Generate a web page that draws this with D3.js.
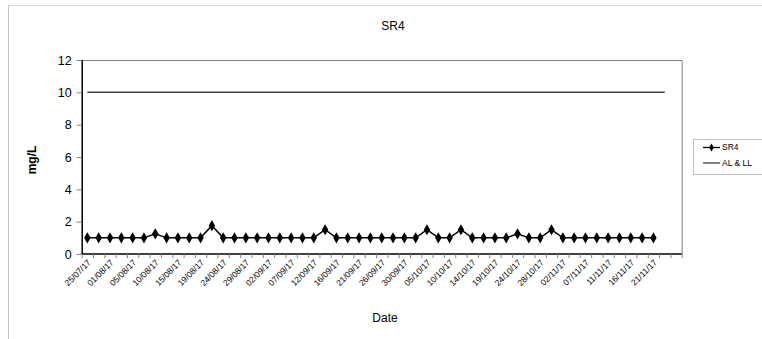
<!DOCTYPE html>
<html>
<head>
  <meta charset="utf-8">
  <title>SR4</title>
  <script src="https://d3js.org/d3.v7.min.js"></script>
  <style>
    body { margin: 0; background: #fff; }
    text { font-family: "Liberation Sans", Arial, sans-serif; }
  </style>
</head>
<body>
<script>
// category count on the date axis (last two are empty)
var categoryCount = 53;
var tickLabels = ["25/07/17","01/08/17","05/08/17","10/08/17","15/08/17","19/08/17",
  "24/08/17","29/08/17","02/09/17","07/09/17","12/09/17","16/09/17","21/09/17",
  "26/09/17","30/09/17","05/10/17","10/10/17","14/10/17","19/10/17","24/10/17",
  "28/10/17","02/11/17","07/11/17","11/11/17","16/11/17","21/11/17"];
var sr4Values = [1,1,1,1,1,1,1.25,1,1,1,1,1.75,1,1,1,1,1,1,1,1,1,1.5,1,1,1,1,
  1,1,1,1,1.5,1,1,1.5,1,1,1,1,1.25,1,1,1.5,1,1,1,1,1,1,1,1,1];
var alValues = [10,10,10,10,10,10,10,10,10,10,10,10,10,10,10,10,10,10,10,10,10,10,10,10,10,10,
  10,10,10,10,10,10,10,10,10,10,10,10,10,10,10,10,10,10,10,10,10,10,10,10,10,10];
var yTicks = [0,2,4,6,8,10,12];

var width = 762, height = 339;
var plot = {left: 81.7, right: 681.7, top: 60, bottom: 254};

var svg = d3.select("body").append("svg")
  .attr("width", width).attr("height", height);

// outer chart frame
svg.append("line").attr("x1", 8).attr("y1", 5.5).attr("x2", width).attr("y2", 5.5)
  .attr("stroke", "#d9d9d9");
svg.append("line").attr("x1", 8.5).attr("y1", 5).attr("x2", 8.5).attr("y2", height)
  .attr("stroke", "#c0c0c0");

var x = d3.scaleBand()
  .domain(d3.range(categoryCount))
  .range([plot.left, plot.right]);
var xEdge = d3.scaleLinear().domain([0, categoryCount]).range([plot.left, plot.right]);
var y = d3.scaleLinear().domain([0, 12]).range([plot.bottom, plot.top]);
var cx = function(i) { return x(i) + x.bandwidth() / 2; };

// plot frame top/right
svg.append("path")
  .attr("d", "M" + plot.left + "," + (plot.top + 0.5) + "H" + (plot.right + 0.5) + "V" + plot.bottom)
  .attr("fill", "none").attr("stroke", "#808080");

// y axis
var yAxis = svg.append("g")
  .attr("transform", "translate(" + plot.left + ",0)")
  .call(d3.axisLeft(y).tickValues(yTicks).tickSize(5).tickPadding(5).tickFormat(d3.format("d")));
yAxis.select(".domain").attr("stroke", "#000").attr("stroke-width", 1.5)
  .attr("d", "M0.5," + plot.top + "V" + plot.bottom);
yAxis.selectAll(".tick line").attr("stroke", "#808080");
yAxis.selectAll("text").style("font-size", "12.5px").attr("fill", "#000");

// x axis
var xAxis = svg.append("g")
  .attr("transform", "translate(0," + plot.bottom + ")")
  .call(d3.axisBottom(xEdge).tickValues(d3.range(categoryCount + 1)).tickSize(4).tickFormat(""));
xAxis.select(".domain").attr("stroke", "#000").attr("stroke-width", 1.5)
  .attr("d", "M" + plot.left + ",0H" + plot.right);
xAxis.selectAll(".tick line").attr("stroke", "#808080");

svg.append("g").selectAll("text")
  .data(tickLabels)
  .enter().append("text")
  .attr("transform", function(d, i) {
    return "translate(" + (cx(i * 2) + 2) + "," + (plot.bottom + 7) + ") rotate(-45)";
  })
  .attr("text-anchor", "end")
  .attr("dy", "0.35em")
  .attr("fill", "#000")
  .style("font-size", "8.5px")
  .text(function(d) { return d; });

// series lines
var line = d3.line()
  .x(function(d, i) { return cx(i); })
  .y(function(d) { return y(d); });

svg.append("path").datum(alValues)
  .attr("d", line).attr("fill", "none")
  .attr("stroke", "#404040").attr("stroke-width", 1.5);

svg.append("path").datum(sr4Values)
  .attr("d", line).attr("fill", "none")
  .attr("stroke", "#000").attr("stroke-width", 1.5);

var diamond = d3.symbol().type(d3.symbolDiamond).size(36);
svg.append("g").selectAll("path")
  .data(sr4Values)
  .enter().append("path")
  .attr("d", diamond)
  .attr("transform", function(d, i) { return "translate(" + cx(i) + "," + y(d) + ")"; })
  .attr("fill", "#000");

// titles
svg.append("text").attr("x", 393).attr("y", 30)
  .attr("text-anchor", "middle").style("font-size", "12px").text("SR4");
svg.append("text").attr("x", 385).attr("y", 322)
  .attr("text-anchor", "middle").style("font-size", "12px").text("Date");
svg.append("text")
  .attr("transform", "translate(36,160) rotate(-90)")
  .attr("text-anchor", "middle").style("font-size", "12px").style("font-weight", "bold")
  .text("mg/L");

// legend
var legend = svg.append("g").attr("transform", "translate(693,139)");
legend.append("rect").attr("x", 0.5).attr("y", 0.5).attr("width", 72).attr("height", 35)
  .attr("fill", "#fff").attr("stroke", "#c0c0c0");
var items = [{name: "SR4", color: "#000", marker: true}, {name: "AL & LL", color: "#404040", marker: false}];
var li = legend.selectAll("g.item").data(items).enter().append("g")
  .attr("transform", function(d, i) { return "translate(0," + (8.5 + i * 15.5) + ")"; });
li.append("line").attr("x1", 10).attr("x2", 27).attr("y1", 0).attr("y2", 0)
  .attr("stroke", function(d) { return d.color; }).attr("stroke-width", 1.3);
li.filter(function(d) { return d.marker; }).append("path")
  .attr("d", d3.symbol().type(d3.symbolDiamond).size(18))
  .attr("transform", "translate(18.5,0)");
li.append("text").attr("x", 29).attr("y", 0).attr("dy", "0.35em")
  .style("font-size", "8.5px").text(function(d) { return d.name; });
</script>
</body>
</html>
